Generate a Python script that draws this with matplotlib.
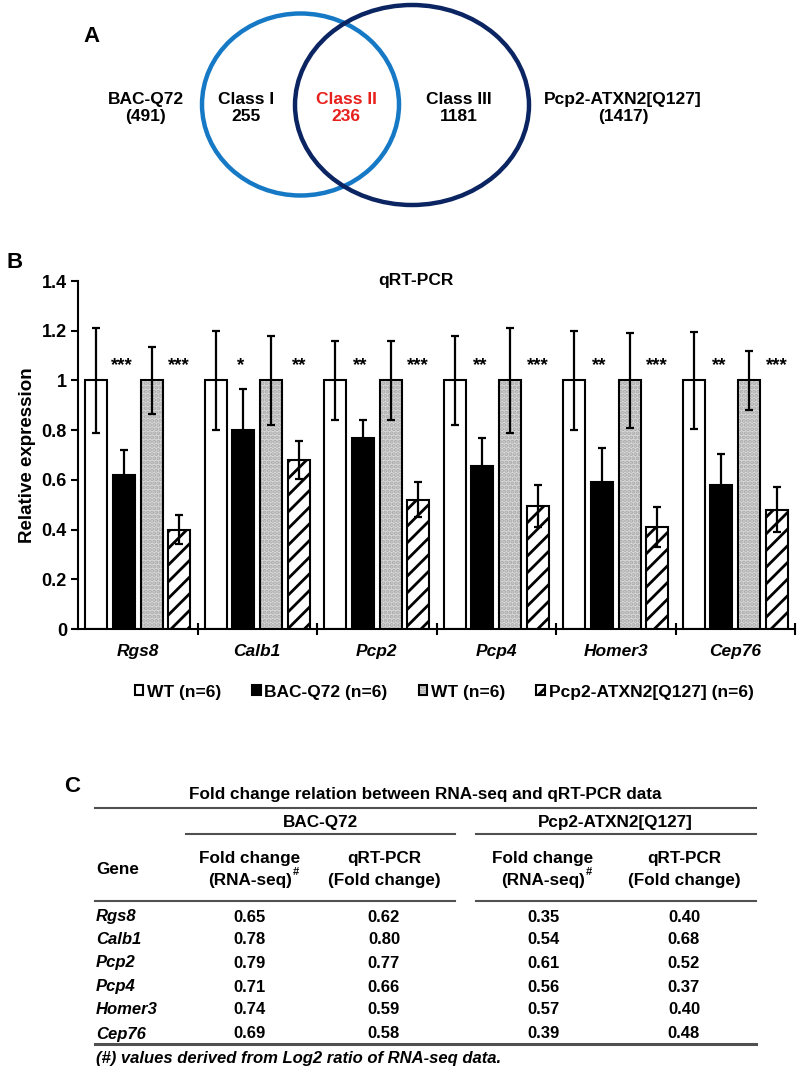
import matplotlib
matplotlib.use("Agg")
import matplotlib.pyplot as plt
from matplotlib.patches import Ellipse
from matplotlib.legend_handler import HandlerTuple
import numpy as np

plt.rcParams['font.family'] = ['Liberation Sans', 'DejaVu Sans']
plt.rcParams['font.weight'] = 'bold'
plt.rcParams['axes.labelweight'] = 'bold'
plt.rcParams['hatch.linewidth'] = 2.0

# ---- panel A: venn counts ----
venn_left_name = 'BAC-Q72'
venn_left_total = 491
venn_right_name = 'Pcp2-ATXN2[Q127]'
venn_right_total = 1417
class_names = ['Class I', 'Class II', 'Class III']
class_counts = [255, 236, 1181]

# ---- panel B: qRT-PCR ----
genes = ['Rgs8', 'Calb1', 'Pcp2', 'Pcp4', 'Homer3', 'Cep76']
wt1_mean = [1, 1, 1, 1, 1, 1]
wt1_err = [0.21, 0.20, 0.16, 0.18, 0.20, 0.195]
bac_mean = [0.62, 0.80, 0.77, 0.655, 0.59, 0.58]
bac_err = [0.10, 0.165, 0.07, 0.115, 0.14, 0.125]
wt2_mean = [1, 1, 1, 1, 1, 1]
wt2_err = [0.135, 0.18, 0.16, 0.21, 0.19, 0.12]
atx_mean = [0.40, 0.68, 0.52, 0.495, 0.41, 0.48]
atx_err = [0.06, 0.075, 0.07, 0.085, 0.08, 0.09]
bac_sig = ['***', '*', '**', '**', '**', '**']
atx_sig = ['***', '**', '***', '***', '***', '***']
series_labels = ['WT (n=6)', 'BAC-Q72 (n=6)', 'WT (n=6)', 'Pcp2-ATXN2[Q127] (n=6)']

# ---- panel C: table ----
rna_bac = [0.65, 0.78, 0.79, 0.71, 0.74, 0.69]
qpcr_bac = [0.62, 0.80, 0.77, 0.66, 0.59, 0.58]
rna_atx = [0.35, 0.54, 0.61, 0.56, 0.57, 0.39]
qpcr_atx = [0.40, 0.68, 0.52, 0.37, 0.40, 0.48]

W, H = 800, 1071
fig = plt.figure(figsize=(W / 100, H / 100), dpi=100)

# overlay axes in pixel coordinates for venn + table + panel letters
ov = fig.add_axes([0, 0, 1, 1])
ov.set_xlim(0, W)
ov.set_ylim(H, 0)
ov.axis('off')

# panel A
ov.text(92, 36, 'A', fontsize=16, ha='center', va='center')
ov.add_patch(Ellipse((300.5, 104.5), 197, 182, fill=False, ec='#1679c6', lw=3.2))
ov.add_patch(Ellipse((412, 105), 234, 200, fill=False, ec='#0b2462', lw=3.2))
venn_fs = 12.5
ov.text(146, 108, f'{venn_left_name}\n({venn_left_total})', ha='center', va='center',
        fontsize=venn_fs, linespacing=1.15)
ov.text(623, 108, f'{venn_right_name}\n({venn_right_total})', ha='center', va='center',
        fontsize=venn_fs, linespacing=1.15)
for xc, name, cnt, col in zip([246, 346, 459], class_names, class_counts,
                              ['black', '#e8201c', 'black']):
    ov.text(xc, 108, f'{name}\n{cnt}', ha='center', va='center', fontsize=venn_fs,
            color=col, linespacing=1.15)

# panel B
ov.text(15, 262, 'B', fontsize=16, ha='center', va='center')
ax = fig.add_axes([78 / W, 1 - 629 / H, (795 - 78) / W, (629 - 281) / H])
x = np.arange(len(genes))
bw = 0.185
step = 0.232
offs = np.array([-1.5, -0.5, 0.5, 1.5]) * step
ekw = dict(ecolor='black', elinewidth=1.6, capsize=2.6, capthick=1.6)

b1 = ax.bar(x + offs[0], wt1_mean, bw, yerr=wt1_err, color='white', edgecolor='black',
            lw=1.5, error_kw=ekw, zorder=2)
b2 = ax.bar(x + offs[1], bac_mean, bw, yerr=bac_err, color='black', edgecolor='black',
            lw=1.5, error_kw=ekw, zorder=2)
b3a = ax.bar(x + offs[2], wt2_mean, bw, color='#dadada', edgecolor='#a8a8a8', lw=0,
             hatch='....', zorder=2)
b3 = ax.bar(x + offs[2], wt2_mean, bw, yerr=wt2_err, color='none', edgecolor='black',
            lw=1.5, error_kw=ekw, zorder=3)
b4 = ax.bar(x + offs[3], atx_mean, bw, yerr=atx_err, color='white', edgecolor='black',
            lw=1.5, hatch='//', error_kw=ekw, zorder=2)

for i in range(len(genes)):
    ax.text(x[i] + offs[1] - 0.02, 1.06, bac_sig[i], ha='center', va='center', fontsize=13.5)
    ax.text(x[i] + offs[3], 1.06, atx_sig[i], ha='center', va='center', fontsize=13.5)

ax.set_xlim(-0.5, len(genes) - 0.5)
ax.set_ylim(0, 1.4)
ax.set_yticks(np.arange(0, 1.41, 0.2))
ax.set_yticklabels([f'{v:g}' for v in np.round(np.arange(0, 1.41, 0.2), 1)], fontsize=13)
ax.set_xticks(x)
ax.set_xticklabels(genes, fontsize=12.5, style='italic')
ax.tick_params(axis='x', length=0, pad=11)
ax.set_xticks(np.arange(0.5, len(genes)), minor=True)
ax.tick_params(axis='x', which='minor', direction='inout', length=9, width=1.5)
ax.tick_params(axis='y', direction='out', length=5, width=1.5, pad=3)
for s in ['top', 'right']:
    ax.spines[s].set_visible(False)
for s in ['left', 'bottom']:
    ax.spines[s].set_linewidth(1.5)
ax.set_ylabel('Relative expression', fontsize=13.5, labelpad=4)
ax.text(0.471, 1.0, 'qRT-PCR', transform=ax.transAxes, ha='center', va='center',
        fontsize=12.5)

fig.legend([b1[0], b2[0], (b3a[0], b3[0]), b4[0]], series_labels,
           handler_map={tuple: HandlerTuple(ndivide=1, pad=0)},
           loc='center', bbox_to_anchor=(444 / W, 1 - 692 / H), ncol=4, frameon=False,
           fontsize=12.5, handlelength=0.5, handleheight=0.5, handletextpad=0.2,
           columnspacing=1.8, borderpad=0)

# panel C table
ov.text(72, 787, 'C', fontsize=16, ha='center', va='center')
tfs = 12.3
line_col = '#505050'
ov.text(425, 795, 'Fold change relation between RNA-seq and qRT-PCR data',
        ha='center', va='center', fontsize=tfs)
ov.plot([95, 756], [808, 808], color=line_col, lw=1.5)
ov.text(320, 823, venn_left_name, ha='center', va='center', fontsize=tfs)
ov.text(615, 823, venn_right_name, ha='center', va='center', fontsize=tfs)
ov.plot([186, 455], [834, 834], color=line_col, lw=1.5)
ov.plot([476, 756], [834, 834], color=line_col, lw=1.5)
ov.text(96, 870, 'Gene', ha='left', va='center', fontsize=tfs)
col_x = [250, 384, 543, 684]
sups = []
for cx, kind in zip(col_x, ['rna', 'qpcr', 'rna', 'qpcr']):
    if kind == 'rna':
        ov.text(cx, 859, 'Fold change', ha='center', va='center', fontsize=tfs)
        t = ov.text(cx, 880, '(RNA-seq)', ha='center', va='center', fontsize=tfs)
        sups.append(t)
    else:
        ov.text(cx, 859, 'qRT-PCR', ha='center', va='center', fontsize=tfs)
        ov.text(cx, 880, '(Fold change)', ha='center', va='center', fontsize=tfs)
ov.plot([95, 455], [901, 901], color=line_col, lw=1.5)
ov.plot([476, 756], [901, 901], color=line_col, lw=1.5)

fig.canvas.draw()
inv = ov.transData.inverted()
for t in sups:
    bb = t.get_window_extent()
    xr, _ = inv.transform((bb.x1, bb.y1))
    ov.text(xr + 1, 872, '#', ha='left', va='center', fontsize=8)

row_y = [917, 940, 963, 987, 1010, 1034]
for g, yy, a, b, c, d in zip(genes, row_y, rna_bac, qpcr_bac, rna_atx, qpcr_atx):
    ov.text(96, yy, g, ha='left', va='center', fontsize=12, style='italic')
    for cx, v in zip(col_x, [a, b, c, d]):
        ov.text(cx, yy, f'{v:.2f}', ha='center', va='center', fontsize=12)
ov.plot([95, 756], [1044, 1044], color=line_col, lw=2.2)
ov.text(96, 1058, '(#) values derived from Log2 ratio of RNA-seq data.', ha='left',
        va='center', fontsize=12, style='italic')

fig.savefig('out.png', dpi=100)
